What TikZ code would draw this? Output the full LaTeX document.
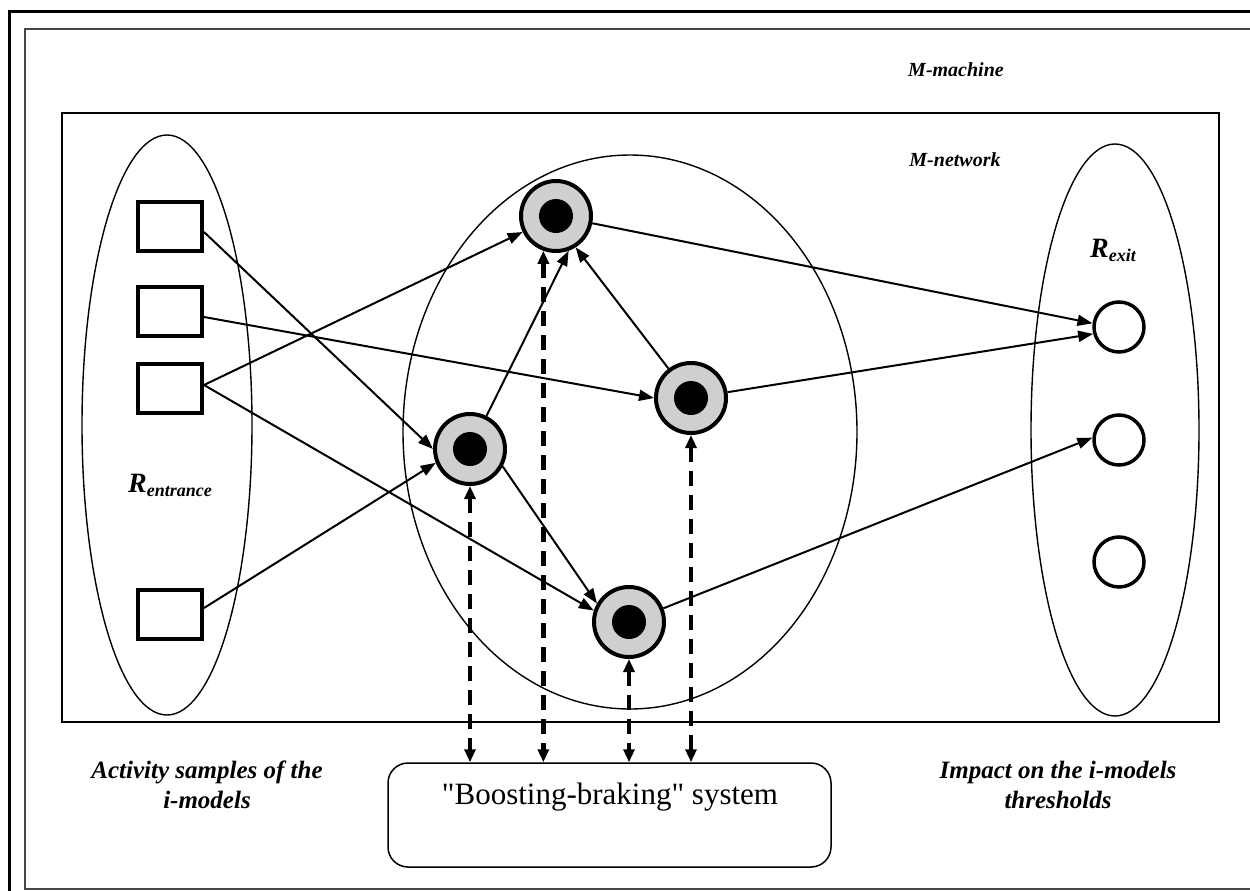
\documentclass[tikz,border=0pt]{standalone}
\usepackage{fontspec}
\setmainfont{Liberation Serif}
\newfontfamily\boxfont[Ligatures=TeXOff]{Liberation Serif}
\usetikzlibrary{arrows.meta,calc}
\definecolor{unitgray}{RGB}{207,207,207}
\definecolor{framegray}{RGB}{70,70,70}
\begin{document}
\begin{tikzpicture}[x=1pt,y=-1pt,
  entry/.style={draw, line width=4pt, minimum width=64pt, minimum height=49pt, inner sep=0pt},
  unit/.style={circle, draw, line width=4pt, fill=unitgray, minimum size=70pt, inner sep=0pt,
    path picture={\fill[black] (path picture bounding box.center) circle (17pt);}},
  exitunit/.style={circle, draw, line width=3.5pt, minimum size=50pt, inner sep=0pt},
  link/.style={-{Triangle[length=15pt,width=11pt]}, line width=2pt},
  boost/.style={{Triangle[length=13pt,width=11pt]}-{Triangle[length=13pt,width=11pt]},
    line width=4.5pt, dash pattern=on 15pt off 9pt},
  lab/.style={font=\bfseries\itshape\fontsize{25}{30}\selectfont, align=center},
  head/.style={font=\bfseries\itshape\fontsize{20}{22}\selectfont},
  thinline/.style={line width=1.4pt}]
\useasboundingbox (0,0) rectangle (1250,891);
\fill[white] (0,0) rectangle (1250,891);

% frames
\draw[line width=3pt] (9,891) -- (9,12) -- (1250,12);
\draw[line width=2pt, framegray] (1250,29) -- (25,29) -- (25,889) -- (1250,889);

% M-network box and the three regions
\draw[line width=1.5pt] (62,113) rectangle (1219,722);
\draw[thinline] (167,425) ellipse [x radius=85pt, y radius=290pt];
\draw[thinline] (630,432) ellipse [x radius=227pt, y radius=277pt];
\draw[thinline] (1115,430) ellipse [x radius=84pt, y radius=286pt];

% headings
\node[head] (mach) at (956,70) {M-machine};
\node[head] (net) at (955,160) {M-network};
\node (rin) at (170,485) {\bfseries\itshape\fontsize{28}{30}\selectfont R\raisebox{-4pt}{\fontsize{18}{20}\selectfont entrance}};
\node (rout) at (1113,250) {\bfseries\itshape\fontsize{28}{30}\selectfont R\raisebox{-4pt}{\fontsize{18}{20}\selectfont exit}};

% entrance elements
\node[entry] (s1) at (170,226) {};
\node[entry] (s2) at (170,311) {};
\node[entry] (s3) at (170,388) {};
\node[entry] (s4) at (170,614) {};

% network units
\node[unit] (nT) at (556,216) {};
\node[unit] (nR) at (691,398) {};
\node[unit] (nL) at (470,449) {};
\node[unit] (nB) at (629,622) {};

% exit elements
\node[exitunit] (e1) at (1119,327) {};
\node[exitunit] (e2) at (1119,440) {};
\node[exitunit] (e3) at (1119,562) {};

% boosting-braking system
\node[draw, line width=1.5pt, rounded corners=20pt, minimum width=443pt, minimum height=104pt] (bb) at (609.5,815) {};
\node[font=\boxfont\fontsize{31}{34}\selectfont] (bbtext) at (610,797) {"Boosting-braking" system};

% side labels
\node[lab] (act) at (207,785) {Activity samples of the\\i-models};
\node[lab] (imp) at (1058,785) {Impact on the i-models\\thresholds};

% connections
\draw[link] ([yshift=-6pt]s1.east) -- (nL.west);
\draw[link] ([yshift=-6pt]s2.east) -- (nR.west);
\draw[link] ([yshift=3pt]s3.east) -- (nT);
\draw[link] ([yshift=3pt]s3.east) -- (nB.162);
\draw[link] ([yshift=6pt]s4.east) -- (nL.202);
\draw[link] (nL) -- (nT.-70);
\draw[link] (nR) -- (nT.-58);
\draw[link] (nL.-28) -- (nB.150);
\draw[link] (nT) -- (e1.172);
\draw[link] (nR) -- (e1.195);
\draw[link] (nB) -- (e2.175);

% boosting-braking links
\draw[boost] (nL.south) -- (nL.south |- bb.north);
\draw[boost] (nT.-110) -- (nT.-110 |- bb.north);
\draw[boost] (nB.south) -- (nB.south |- bb.north);
\draw[boost] (nR.south) -- (nR.south |- bb.north);
\end{tikzpicture}
\end{document}
